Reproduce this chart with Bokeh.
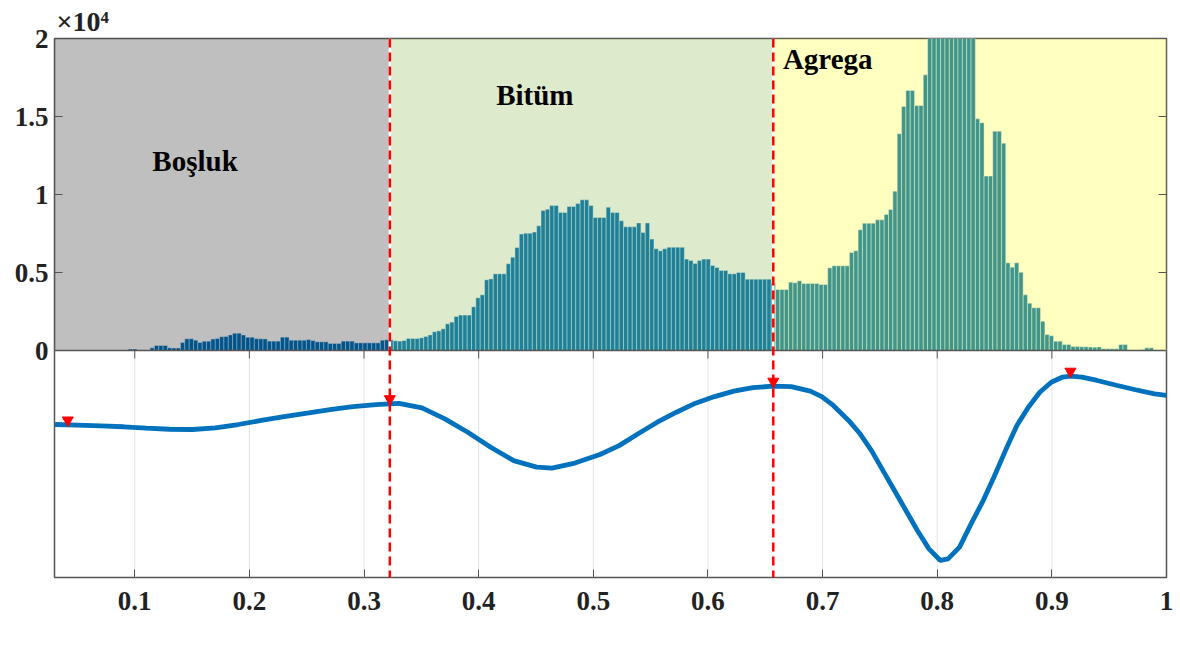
import numpy as np
from bokeh.plotting import figure
from bokeh.models import (Range1d, FixedTicker, CustomJSTickFormatter, LinearAxis,
                          Span, Label, Title)
from bokeh.embed import file_html
from bokeh.resources import INLINE

# ---------------- data ----------------
x_min, x_max = 0.03, 1.0
n_bins = 256
thresholds = [0.3225, 0.657]
region_names = ["Boşluk", "Bitüm", "Agrega"]
y_scale_text = "×10⁴"

# histogram counts, region 1 (Boşluk), bins 0..77
counts_bosluk = [0]*17 + [90, 90, 0, 0, 0, 170, 320, 320, 320, 170, 165, 160, 510, 750, 750,
                          660, 510, 600, 600, 740, 770, 880, 900, 1000, 1110, 1110, 1000, 855,
                          855, 760, 750, 740, 600, 600, 600, 855, 855, 660, 660, 660, 660, 700,
                          640, 555, 555, 555, 450, 450, 450, 600, 600, 600, 490, 490, 490, 490,
                          490, 490, 660, 684, 684]
# region 2 (Bitüm), bins 78..165
counts_bitum = [620, 600, 640, 770, 770, 770, 810, 900, 1000, 1200, 1260, 1390, 1710, 1820,
                2180, 2270, 2270, 2270, 2800, 3380, 3570, 4530, 4590, 4915, 4915, 4915, 5560,
                5980, 6600, 7460, 7520, 7520, 7590, 7990, 8975, 9060, 9300, 9300, 8850, 8850,
                9230, 9230, 9420, 9660, 9660, 9300, 8530, 8530, 8530, 9190, 8850, 8850, 8310,
                7930, 7930, 7930, 8180, 7560, 8180, 7140, 6520, 6390, 6520, 6620, 6620, 6620,
                6620, 5860, 5770, 5580, 5770, 5860, 5860, 5450, 5320, 5130, 5130, 4915, 4915,
                5000, 5000, 4570, 4570, 4570, 4570, 4570, 4570, 4320]
# region 3 (Agrega), bins 166..255
counts_agrega = [3910, 3910, 3910, 4380, 4340, 4470, 4295, 4295, 4295, 4295, 4230, 4230, 5300,
                 5430, 5430, 5430, 5430, 6280, 6390, 7735, 8160, 8160, 8160, 8380, 8380, 8720,
                 9040, 10215, 13890, 15640, 16670, 16670, 15700, 15700, 17670,
                 21000, 23500, 26000, 27500, 28500, 29000, 28000, 26500, 25000, 23000, 21000,
                 14850, 14600, 11180, 11180, 14060, 14060, 13290, 5620, 5340, 5620, 5020, 3570,
                 3035, 2735, 2735, 1880, 1025, 940, 600, 600, 385, 385, 260, 250, 240, 235, 225,
                 215, 230, 107, 107, 107, 107, 385, 385, 40, 40, 40, 50, 170, 170, 40, 40, 40]
counts = counts_bosluk + counts_bitum + counts_agrega

# lower curve (arbitrary units, 0..1 over the lower panel)
curve_x = [0.0305, 0.0501, 0.0702, 0.0902, 0.1102, 0.1302, 0.1503, 0.1703, 0.1903, 0.2103,
           0.2303, 0.2504, 0.2704, 0.2904, 0.3104, 0.3304, 0.3505, 0.3705, 0.3905, 0.4105,
           0.4305, 0.4506, 0.4639, 0.4839, 0.5058, 0.5225, 0.5391, 0.5558, 0.5725, 0.5892,
           0.6058, 0.6226, 0.6392, 0.6560, 0.6726, 0.6893, 0.6993, 0.7093, 0.7227, 0.7327,
           0.7427, 0.7527, 0.7627, 0.7727, 0.7827, 0.7928, 0.8027, 0.8094, 0.8195, 0.8295,
           0.8394, 0.8494, 0.8595, 0.8695, 0.8795, 0.8895, 0.8995, 0.9095, 0.9162, 0.9262,
           0.9395, 0.9562, 0.9729, 0.9896, 1.0]
curve_y = [0.674, 0.671, 0.668, 0.664, 0.658, 0.653, 0.652, 0.659, 0.674, 0.692,
           0.709, 0.724, 0.739, 0.753, 0.762, 0.767, 0.747, 0.699, 0.640, 0.574,
           0.515, 0.486, 0.482, 0.504, 0.542, 0.581, 0.633, 0.684, 0.728, 0.768,
           0.797, 0.821, 0.836, 0.843, 0.841, 0.821, 0.797, 0.758, 0.692, 0.633,
           0.559, 0.471, 0.383, 0.295, 0.207, 0.126, 0.075, 0.082, 0.134, 0.236,
           0.332, 0.442, 0.559, 0.670, 0.750, 0.816, 0.860, 0.883, 0.887, 0.883,
           0.868, 0.847, 0.827, 0.809, 0.802]
peaks_x = [0.0416, 0.3225, 0.657, 0.9162]
peaks_y = [0.672, 0.766, 0.843, 0.887]

x_ticks = [0.1, 0.2, 0.3, 0.4, 0.5, 0.6, 0.7, 0.8, 0.9, 1.0]
y_ticks = [0, 5000, 10000, 15000, 20000]
y_top = 20000

# ---------------- layout / style ----------------
FONT = "Liberation Serif"
AX = "#555555"
BLUE = "#0072BD"
FW = 1112
H_TOP, H_BOT = 312, 227
LB, RB = 54, 10
y_lo = -y_top * H_BOT / H_TOP            # lower panel lives below zero
px = (y_top - y_lo) / (H_TOP + H_BOT)     # data units per pixel

edges = np.linspace(x_min, x_max, n_bins + 1)
centers = (edges[:-1] + edges[1:]) / 2
bw = edges[1] - edges[0]

p = figure(frame_width=FW, frame_height=H_TOP + H_BOT, output_backend="svg",
           toolbar_location=None, x_range=Range1d(x_min, x_max), y_range=Range1d(y_lo, y_top),
           min_border_left=LB, min_border_right=RB, min_border_top=38, min_border_bottom=50)
p.extra_y_ranges = {"curve": Range1d(0, (H_TOP + H_BOT) / H_BOT)}
p.xgrid.visible = False
p.ygrid.visible = False
p.outline_line_color = AX
p.outline_line_width = 1.5
p.background_fill_color = "white"

p.add_layout(Title(text=y_scale_text, align="left", offset=2, standoff=4, text_font=FONT,
                   text_font_style="bold", text_font_size="28px",
                   text_color="#222222"), "above")

# lower-panel vertical grid lines
p.segment(x0=x_ticks[:-1], x1=x_ticks[:-1], y0=[y_lo]*9, y1=[0]*9,
          line_color="#e3e3e3", line_width=1)

# histogram bars
p.vbar(x=centers, top=counts, width=bw, bottom=0, fill_color=BLUE,
       line_color="white", line_alpha=0.55, line_width=0.8)

# region shading
reg_left = [x_min] + thresholds
reg_right = thresholds + [x_max]
p.quad(left=reg_left, right=reg_right, bottom=[0]*3, top=[y_top]*3,
       fill_color=["#000000", "#77AC30", "#FFFF00"], fill_alpha=0.25, line_color=None)

# separation line between panels and inward ticks on it
p.add_layout(Span(location=0, dimension="width", line_color=AX, line_width=1.5))
p.segment(x0=x_ticks[:-1], x1=x_ticks[:-1], y0=[0]*9, y1=[-8 * px]*9,
          line_color=AX, line_width=1)

# left y axis (histogram counts)
yax = p.yaxis[0]
yax.ticker = FixedTicker(ticks=y_ticks)
yax.formatter = CustomJSTickFormatter(code="return String(tick/10000);")
yax.major_tick_in = 8
yax.major_tick_out = 0
yax.minor_tick_line_color = None
yax.axis_line_color = None
yax.major_tick_line_color = AX
yax.major_label_text_font = FONT
yax.major_label_text_font_style = "bold"
yax.major_label_text_font_size = "27px"
yax.major_label_text_color = "#222222"
yax.major_label_standoff = 6

blank = CustomJSTickFormatter(code="return '';")
rax = LinearAxis(ticker=FixedTicker(ticks=y_ticks), formatter=blank, major_tick_in=8,
                 major_tick_out=0, minor_tick_line_color=None, axis_line_color=None,
                 major_tick_line_color=AX, major_label_text_font_size="1px",
                 major_label_standoff=0)
p.add_layout(rax, "right")

# x axis
xax = p.xaxis[0]
xax.ticker = FixedTicker(ticks=x_ticks)
xax.formatter = CustomJSTickFormatter(code="return (Math.round(tick*10)/10).toString();")
xax.major_tick_in = 8
xax.major_tick_out = 0
xax.minor_tick_line_color = None
xax.axis_line_color = None
xax.major_tick_line_color = AX
xax.major_label_text_font = FONT
xax.major_label_text_font_style = "bold"
xax.major_label_text_font_size = "27px"
xax.major_label_text_color = "#222222"
xax.major_label_standoff = 14

# threshold lines
for t in thresholds:
    p.segment(x0=[t], x1=[t], y0=[0], y1=[y_top], line_color="white", line_width=2.5)
    p.add_layout(Span(location=t, dimension="height", line_color="#ff0000",
                      line_width=2.5, line_dash="9 5"))

# lower curve and peaks
p.line(curve_x, curve_y, line_color=BLUE, line_width=4.8, y_range_name="curve")
p.scatter(peaks_x, [v + 0.021 for v in peaks_y], marker="inverted_triangle", size=11,
          fill_color="#ff0000", line_color="#ff0000", y_range_name="curve")

# region names
lab_style = dict(text_font=FONT, text_font_style="bold", text_font_size="29px",
                 text_color="black", text_align="center", text_baseline="alphabetic")
p.add_layout(Label(x=0.1526, y=12150, text=region_names[0], **lab_style))
p.add_layout(Label(x=0.449, y=16405, text=region_names[1], **lab_style))
p.add_layout(Label(x=0.7045, y=18695, text=region_names[2], **lab_style))

open("out.html", "w").write(file_html(p, INLINE))
